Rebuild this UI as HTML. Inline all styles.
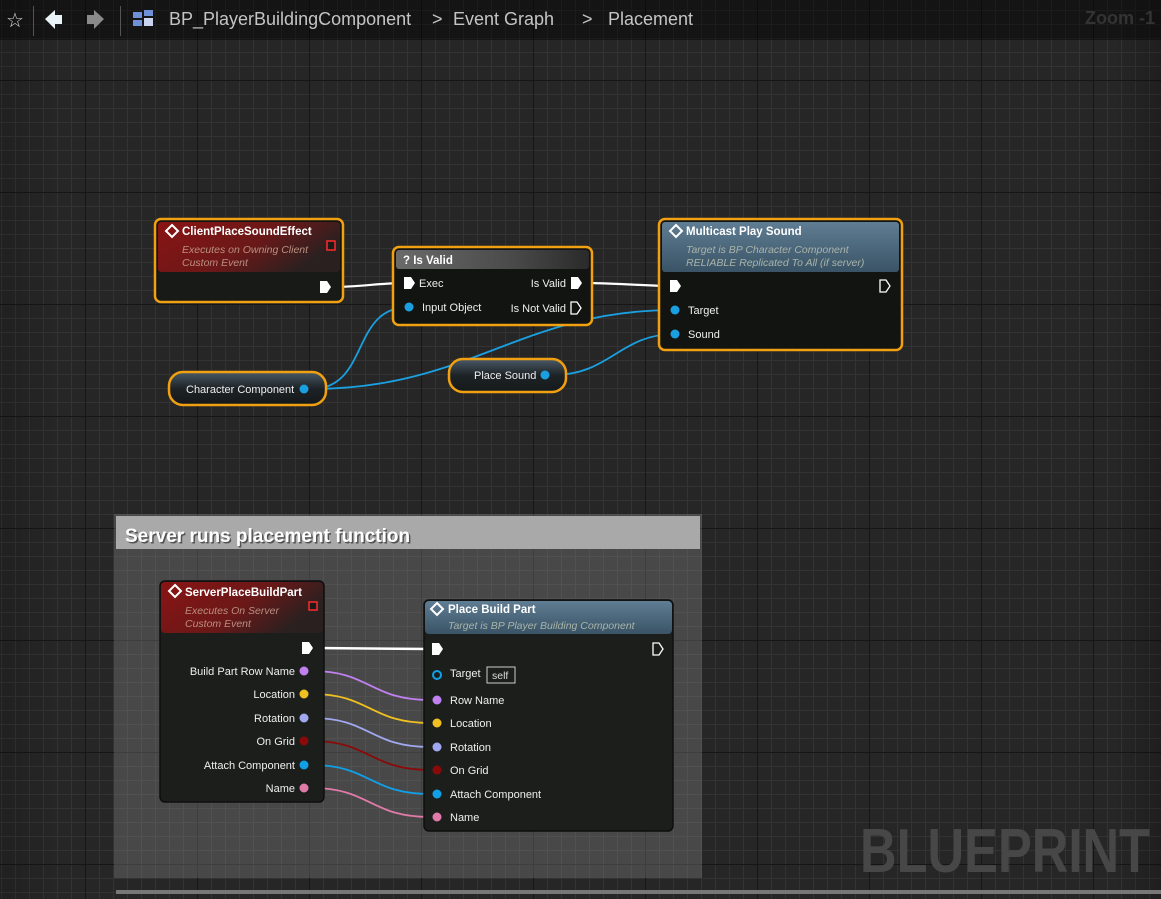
<!DOCTYPE html>
<html><head><meta charset="utf-8"><style>
html,body{margin:0;padding:0;background:#262626;overflow:hidden}
svg{display:block}
text{font-family:"Liberation Sans",sans-serif}
</style></head><body>
<svg width="1161" height="899" viewBox="0 0 1161 899" xmlns="http://www.w3.org/2000/svg">
<defs>
<pattern id="minor" x="1" y="10" width="14" height="14" patternUnits="userSpaceOnUse">
<rect width="14" height="14" fill="#262626"/><rect x="0" y="0" width="14" height="1" fill="#333"/><rect x="0" y="0" width="1" height="14" fill="#333"/></pattern>
<pattern id="major" x="85" y="80" width="112" height="112" patternUnits="userSpaceOnUse">
<rect x="0" y="0" width="112" height="1" fill="#161616"/><rect x="0" y="0" width="1" height="112" fill="#161616"/></pattern>
<linearGradient id="red" x1="0" y1="0" x2="1" y2="0.4"><stop offset="0" stop-color="#8a1414"/><stop offset="0.6" stop-color="#6a1818"/><stop offset="1" stop-color="#2a2020"/></linearGradient>
<linearGradient id="blue" x1="0" y1="0" x2="0" y2="1"><stop offset="0" stop-color="#5f7d93"/><stop offset="1" stop-color="#3a5366"/></linearGradient>
<linearGradient id="grey" x1="0" y1="0" x2="1" y2="0"><stop offset="0" stop-color="#6a6a6a"/><stop offset="0.6" stop-color="#4a4a4a"/><stop offset="1" stop-color="#2a2a2a"/></linearGradient>
<linearGradient id="pill" x1="0" y1="0" x2="0" y2="1"><stop offset="0" stop-color="#4a5a66"/><stop offset="0.5" stop-color="#1d2226"/><stop offset="1" stop-color="#15191b"/></linearGradient>
<linearGradient id="vign" x1="0" y1="0" x2="1" y2="0"><stop offset="0" stop-color="#000" stop-opacity="0.15"/><stop offset="0.05" stop-color="#000" stop-opacity="0"/><stop offset="0.96" stop-color="#000" stop-opacity="0"/><stop offset="1" stop-color="#000" stop-opacity="0.2"/></linearGradient>
</defs>
<rect width="1161" height="899" fill="url(#minor)"/>
<rect width="1161" height="899" fill="url(#major)"/>
<rect width="1161" height="899" fill="url(#vign)"/>
<!-- top bar -->
<rect width="1161" height="40" fill="#000" opacity="0.45"/>
<text x="15" y="27" font-size="20" fill="#ddd" text-anchor="middle">☆</text>
<rect x="33" y="6" width="1" height="30" fill="#555"/>
<path d="M45 19L55 10V15H62V24H55V29Z" fill="#e8f4f8"/>
<path d="M104 19L94 10V15H87V24H94V29Z" fill="#8a8a8a"/>
<rect x="120" y="6" width="1" height="30" fill="#555"/>
<rect x="133" y="12" width="9" height="6" fill="#6f8fd8"/><rect x="144" y="10" width="9" height="6" fill="#6f8fd8"/><rect x="133" y="20" width="9" height="6" fill="#6f8fd8"/><rect x="144" y="18" width="9" height="8" fill="#c8d4f0"/>
<text x="169" y="25" font-size="18" fill="#c4c4c4">BP_PlayerBuildingComponent</text>
<text x="432" y="25" font-size="18" fill="#c4c4c4">&gt;</text>
<text x="453" y="25" font-size="18" fill="#c4c4c4">Event Graph</text>
<text x="582" y="25" font-size="18" fill="#c4c4c4">&gt;</text>
<text x="608" y="25" font-size="18" fill="#c4c4c4">Placement</text>
<text x="1155" y="24" font-size="18" font-weight="bold" fill="#333" text-anchor="end">Zoom -1</text>

<!-- comment box -->
<rect x="114" y="514" width="588" height="364" fill="#8a8a8a" opacity="0.35"/>
<rect x="116" y="516" width="584" height="33" fill="#a9a9a9"/>
<text x="125" y="542" font-size="19" font-weight="bold" fill="#000" opacity="0.5" transform="translate(1.5,1.5)">Server runs placement function</text>
<text x="125" y="542" font-size="19" font-weight="bold" fill="#fff">Server runs placement function</text>
<rect x="116" y="890" width="1045" height="4" fill="#777"/>

<!-- BLUEPRINT -->
<text x="860" y="872" font-size="62" font-weight="bold" fill="#474747" textLength="290" lengthAdjust="spacingAndGlyphs">BLUEPRINT</text>

<!-- wires top -->
<g fill="none" stroke-width="2.2">
<path d="M333 287 C360 287 380 283 405 283" stroke="#fff"/>
<path d="M585 283 C615 283 645 286 675 286" stroke="#fff"/>
<path d="M311 389 C370 389 350 307 409 307" stroke="#1aa0e0" stroke-width="1.8"/>
<path d="M311 389 C470 389 520 310 675 310" stroke="#1aa0e0" stroke-width="1.8"/>
<path d="M553 375 C610 375 620 334 675 334" stroke="#1aa0e0" stroke-width="1.8"/>
</g>

<!-- ClientPlaceSoundEffect -->
<rect x="155" y="219" width="188" height="83" rx="6" fill="#121412" stroke="#f0a010" stroke-width="2.5"/>
<rect x="158" y="222" width="182" height="50" rx="3" fill="url(#red)"/>
<rect x="158" y="272" width="182" height="28" fill="#181a18"/>
<path d="M172 225L178 231L172 237L166 231Z" fill="none" stroke="#fff" stroke-width="2"/>
<text x="182" y="235" font-size="11.5" font-weight="bold" fill="#fff">ClientPlaceSoundEffect</text>
<text x="182" y="253" font-size="10.5" font-style="italic" fill="#b89080">Executes on Owning Client</text>
<text x="182" y="266" font-size="10.5" font-style="italic" fill="#b89080">Custom Event</text>
<rect x="327" y="241" width="8" height="9" fill="#1a1a1a" stroke="#ff2a2a" stroke-width="1.5"/>
<path d="M320 281H327L331 287L327 293H320Z" fill="#fff"/>

<!-- Is Valid -->
<rect x="393" y="247" width="199" height="78" rx="6" fill="#121412" stroke="#f0a010" stroke-width="2.5"/>
<rect x="396" y="250" width="193" height="19" rx="3" fill="url(#grey)"/>
<text x="403" y="264" font-size="11.5" font-weight="bold" fill="#fff">? Is Valid</text>
<path d="M404 277H411L415 283L411 289H404Z" fill="#fff"/>
<text x="419" y="287" font-size="11" fill="#eee">Exec</text>
<circle cx="409" cy="307" r="4.5" fill="#1aa0e0"/>
<text x="422" y="311" font-size="11" fill="#eee">Input Object</text>
<text x="566" y="287" font-size="11" fill="#eee" text-anchor="end">Is Valid</text>
<path d="M571 277H578L582 283L578 289H571Z" fill="#fff"/>
<text x="566" y="312" font-size="11" fill="#eee" text-anchor="end">Is Not Valid</text>
<path d="M571 302H577L581 308L577 314H571Z" fill="none" stroke="#fff" stroke-width="1.3"/>

<!-- Multicast -->
<rect x="659" y="219" width="243" height="131" rx="6" fill="#121412" stroke="#f0a010" stroke-width="2.5"/>
<rect x="662" y="222" width="237" height="50" rx="3" fill="url(#blue)"/>
<path d="M676 225L682 231L676 237L670 231Z" fill="none" stroke="#fff" stroke-width="2"/>
<text x="686" y="235" font-size="11.5" font-weight="bold" fill="#fff">Multicast Play Sound</text>
<text x="686" y="253" font-size="10.5" font-style="italic" fill="#a8b4a8">Target is BP Character Component</text>
<text x="686" y="266" font-size="10.5" font-style="italic" fill="#a8b4a8">RELIABLE Replicated To All (if server)</text>
<path d="M670 280H677L681 286L677 292H670Z" fill="#fff"/>
<path d="M880 280H886L890 286L886 292H880Z" fill="none" stroke="#fff" stroke-width="1.3"/>
<circle cx="675" cy="310" r="4.5" fill="#1aa0e0"/>
<text x="688" y="314" font-size="11" fill="#eee">Target</text>
<circle cx="675" cy="334" r="4.5" fill="#1aa0e0"/>
<text x="688" y="338" font-size="11" fill="#eee">Sound</text>

<!-- pills -->
<rect x="169" y="372" width="157" height="33" rx="14" fill="url(#pill)" stroke="#f0a010" stroke-width="2.5"/>
<text x="186" y="393" font-size="11" fill="#eee">Character Component</text>
<circle cx="304" cy="389" r="4.5" fill="#1aa0e0"/>
<rect x="449" y="359" width="117" height="33" rx="14" fill="url(#pill)" stroke="#f0a010" stroke-width="2.5"/>
<text x="474" y="379" font-size="11" fill="#eee">Place Sound</text>
<circle cx="545" cy="375" r="4.5" fill="#1aa0e0"/>

<!-- wires bottom -->
<g fill="none" stroke-width="1.8">
<path d="M314 648 L430 649" stroke="#fff" stroke-width="2.5"/>
<path d="M312 671 C370 671 370 700 430 700" stroke="#c080f0"/>
<path d="M312 694 C370 694 370 723 430 723" stroke="#f0c020"/>
<path d="M312 718 C370 718 370 747 430 747" stroke="#a0a8f0"/>
<path d="M312 741 C370 741 370 770 430 770" stroke="#8a0a0a"/>
<path d="M312 765 C370 765 370 794 430 794" stroke="#10a0e8"/>
<path d="M312 788 C370 788 370 817 430 817" stroke="#e07aa8"/>
</g>

<!-- ServerPlaceBuildPart -->
<rect x="160" y="581" width="164" height="221" rx="5" fill="#1c1e1c" stroke="#0e0e0e" stroke-width="1.5"/>
<rect x="161" y="582" width="162" height="51" rx="4" fill="url(#red)"/>
<path d="M175 585L181 591L175 597L169 591Z" fill="none" stroke="#fff" stroke-width="2"/>
<text x="185" y="596" font-size="11.5" font-weight="bold" fill="#fff">ServerPlaceBuildPart</text>
<text x="185" y="614" font-size="10.5" font-style="italic" fill="#b89080">Executes On Server</text>
<text x="185" y="627" font-size="10.5" font-style="italic" fill="#b89080">Custom Event</text>
<rect x="309" y="602" width="8" height="8" fill="#1a1a1a" stroke="#ff2a2a" stroke-width="1.5"/>
<path d="M302 642H309L313 648L309 654H302Z" fill="#fff"/>
<g font-size="11" fill="#eee" text-anchor="end">
<text x="295" y="675">Build Part Row Name</text>
<text x="295" y="698">Location</text>
<text x="295" y="722">Rotation</text>
<text x="295" y="745">On Grid</text>
<text x="295" y="769">Attach Component</text>
<text x="295" y="792">Name</text>
</g>
<circle cx="304" cy="671" r="4.5" fill="#c080f0"/>
<circle cx="304" cy="694" r="4.5" fill="#f0c020"/>
<circle cx="304" cy="718" r="4.5" fill="#a0a8f0"/>
<circle cx="304" cy="741" r="4.5" fill="#8a0a0a"/>
<circle cx="304" cy="765" r="4.5" fill="#10a0e8"/>
<circle cx="304" cy="788" r="4.5" fill="#e07aa8"/>

<!-- Place Build Part -->
<rect x="424" y="600" width="249" height="231" rx="5" fill="#1c1e1c" stroke="#0e0e0e" stroke-width="1.5"/>
<rect x="425" y="601" width="247" height="33" rx="4" fill="url(#blue)"/>
<path d="M437 603L443 609L437 615L431 609Z" fill="none" stroke="#fff" stroke-width="2"/>
<text x="448" y="613" font-size="11.5" font-weight="bold" fill="#fff">Place Build Part</text>
<text x="448" y="629" font-size="10.5" font-style="italic" fill="#a8b4a8">Target is BP Player Building Component</text>
<path d="M432 643H439L443 649L439 655H432Z" fill="#fff"/>
<path d="M653 643H659L663 649L659 655H653Z" fill="none" stroke="#fff" stroke-width="1.3"/>
<circle cx="437" cy="675" r="4" fill="none" stroke="#10a0e8" stroke-width="2"/>
<text x="450" y="677" font-size="11" fill="#eee">Target</text>
<rect x="487" y="667" width="28" height="16" fill="none" stroke="#ccc" stroke-width="1"/>
<text x="492" y="679" font-size="10.5" fill="#ddd">self</text>
<g font-size="11" fill="#eee">
<text x="450" y="704">Row Name</text>
<text x="450" y="727">Location</text>
<text x="450" y="751">Rotation</text>
<text x="450" y="774">On Grid</text>
<text x="450" y="798">Attach Component</text>
<text x="450" y="821">Name</text>
</g>
<circle cx="437" cy="700" r="4.5" fill="#c080f0"/>
<circle cx="437" cy="723" r="4.5" fill="#f0c020"/>
<circle cx="437" cy="747" r="4.5" fill="#a0a8f0"/>
<circle cx="437" cy="770" r="4.5" fill="#8a0a0a"/>
<circle cx="437" cy="794" r="4.5" fill="#10a0e8"/>
<circle cx="437" cy="817" r="4.5" fill="#e07aa8"/>
</svg>
</body></html>
